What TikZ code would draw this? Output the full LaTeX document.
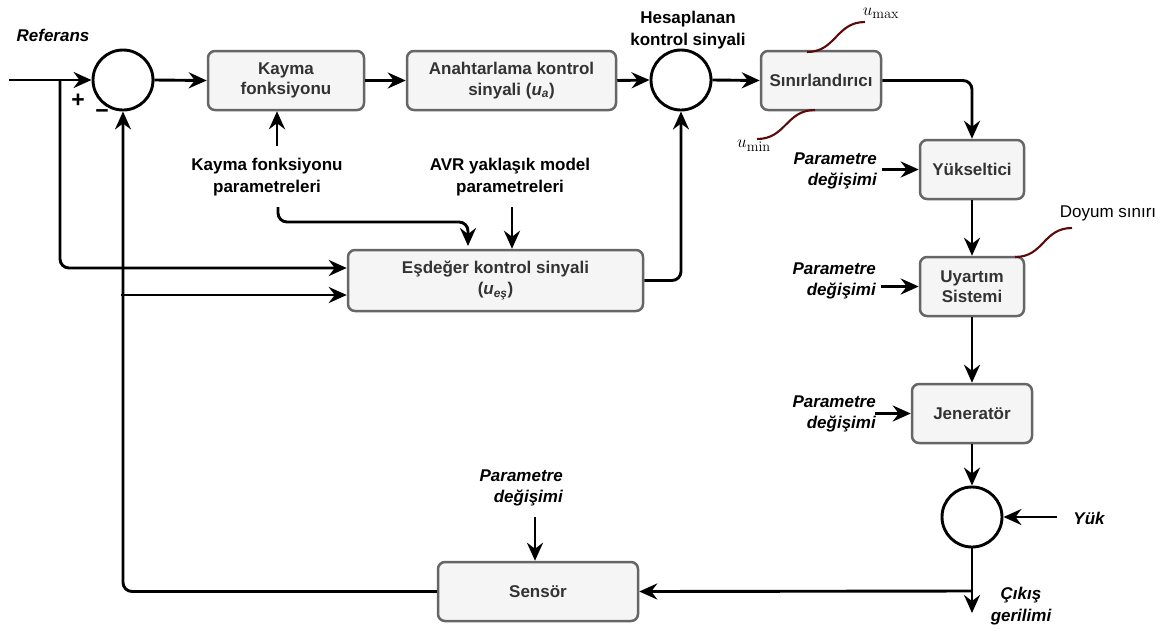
\documentclass[tikz,border=0pt]{standalone}
\usepackage[no-math]{fontspec}
\setmainfont{Liberation Sans}
\usetikzlibrary{arrows.meta,calc}
\definecolor{boxfill}{HTML}{F5F5F5}
\definecolor{boxdraw}{HTML}{666666}
\definecolor{boxtext}{HTML}{333333}
\definecolor{limred}{HTML}{5A0A0A}
\tikzset{
 blk/.style={draw=boxdraw, fill=boxfill, rounded corners=7pt, line width=2.5pt, text=boxtext,
   font=\bfseries\fontsize{17}{20.5}\selectfont, align=center, inner sep=0pt},
 sumc/.style={circle, draw, line width=2.9pt, minimum size=60pt, inner sep=0pt},
 conn/.style={line width=2.9pt, rounded corners=9pt, -{Stealth[length=18pt,width=16pt,inset=6pt]}},
 lbl/.style={font=\bfseries\fontsize{17}{21.5}\selectfont, align=center, inner sep=0pt},
 ilbl/.style={font=\bfseries\itshape\fontsize{17}{21.5}\selectfont, inner sep=0pt},
 sgn/.style={font=\bfseries\fontsize{23}{24}\selectfont, inner sep=0pt},
 lim/.style={draw=limred, line width=2.1pt},
}
\begin{document}
\begin{tikzpicture}[x=1pt,y=-1pt]
\fill[white] (0,0) rectangle (1165,633);
\useasboundingbox (0,0) rectangle (1165,633);

% blocks
\node[blk, minimum width=156pt, minimum height=59pt] (kay) at (286,80.5) {Kayma\\fonksiyonu};
\node[blk, minimum width=209pt, minimum height=59pt] (anah) at (511.5,80.5) {Anahtarlama kontrol\\sinyali (\textit{u}\textsubscript{\textit{a}})};
\node[blk, minimum width=120pt, minimum height=59pt] (sin) at (821,80.5) {Sınırlandırıcı};
\node[blk, minimum width=104pt, minimum height=59pt] (yuk) at (972,169.5) {Yükseltici};
\node[blk, minimum width=104pt, minimum height=59pt] (uya) at (972,286.5) {Uyartım\\Sistemi};
\node[blk, minimum width=120pt, minimum height=59pt] (jen) at (972,413.5) {Jeneratör};
\node[blk, minimum width=295pt, minimum height=61pt] (esd) at (495.5,280.5) {Eşdeğer kontrol sinyali\\(\textit{u}\textsubscript{\textit{eş}})};
\node[blk, minimum width=200pt, minimum height=59pt] (sen) at (538,591.5) {Sensör};

% summing junctions
\node[sumc] (s1) at (123,80) {};
\node[sumc] (s2) at (681,80) {};
\node[sumc] (s3) at (972,517) {};

% labels
\node[ilbl] (ref) at (53,35) {Referans};
\node[sgn] (plus) at (78,101) {+};
\node[sgn] (minus) at (102,114) {−};
\node[lbl] (hes) at (688,30) {Hesaplanan\\kontrol sinyali};
\node[lbl] (kfp) at (267,177) {Kayma fonksiyonu\\parametreleri};
\node[lbl] (avr) at (510,177) {AVR yaklaşık model\\parametreleri};
\node[ilbl, align=right, anchor=east] (p1) at (877,171) {Parametre\\değişimi};
\node[ilbl, align=right, anchor=east] (p2) at (876,281) {Parametre\\değişimi};
\node[ilbl, align=right, anchor=east] (p3) at (876,414) {Parametre\\değişimi};
\node[ilbl, align=right, anchor=east] (p4) at (563,488) {Parametre\\değişimi};
\node[ilbl] (yk) at (1089,518) {Yük};
\node[ilbl, align=center] (cik) at (1021,606) {Çıkış\\gerilimi};
\node[font=\fontsize{17}{20}\selectfont, inner sep=0pt] (doy) at (1108,213) {Doyum sınırı};
\node[font=\fontsize{19}{22}\selectfont, inner sep=0pt] (umax) at (881,13) {$u_{\max}$};
\node[font=\fontsize{19}{22}\selectfont, inner sep=0pt] (umin) at (754,146) {$u_{\min}$};

% free ends
\coordinate (in) at (9,80);
\coordinate (b1) at (60,80);
\coordinate (b2) at (121,295);
\coordinate (kp) at (277,146);
\coordinate (kq) at (278,207);
\coordinate (kr) at (468,222);
\coordinate (ks) at (468,246);
\coordinate (ap) at (512,207);
\coordinate (pp1) at (882,169.5);
\coordinate (pp2) at (881,286.5);
\coordinate (pp3) at (875,413.5);
\coordinate (pp4) at (535,517);
\coordinate (load) at (1057,517);
\coordinate (out) at (972,613);
\coordinate (fb) at (972,591);

% connectors
\draw[conn] (in) -- (s1.west);
\draw[conn] (b1) |- ($(esd.west)+(0,-12.5)$);
\draw[conn] (b2) -- (b2 -| esd.west);
\draw[conn] (sen.west) -| (s1.south);
\draw[conn] (s1.east) -- (kay.west);
\draw[conn] (kay.east) -- (anah.west);
\draw[conn] (anah.east) -- (s2.west);
\draw[conn] (s2.east) -- (sin.west);
\draw[conn] (sin.east) -| (yuk.north);
\draw[conn] (yuk.south) -- (uya.north);
\draw[conn] (uya.south) -- (jen.north);
\draw[conn] (jen.south) -- (s3.north);
\draw[conn] (load) -- (s3.east);
\draw[conn] (s3.south) -- (out);
\draw[conn] (fb) -- (sen.east);
\draw[conn] (esd.east) -| (s2.south);
\draw[conn] (kp) -- (kp |- kay.south);
\draw[conn] (kq) |- (kr) -- (ks);
\draw[conn] (ap) -- (ap |- esd.north);
\draw[conn] (pp1) -- (yuk.west);
\draw[conn] (pp2) -- (uya.west);
\draw[conn] (pp3) -- (jen.west);
\draw[conn] (pp4) -- (pp4 |- sen.north);

% limit annotations
\coordinate (m1) at (807,52); \coordinate (m2) at (865,22);
\coordinate (n1) at (815,110); \coordinate (n2) at (757,139);
\coordinate (d1) at (1015,257); \coordinate (d2) at (1072,228);
\draw[lim] (m1) .. controls (836,52) and (836,22) .. (m2);
\draw[lim] (n1) .. controls (786,110) and (786,139) .. (n2);
\draw[lim] (d1) .. controls (1044,257) and (1043,228) .. (d2);
\end{tikzpicture}
\end{document}
